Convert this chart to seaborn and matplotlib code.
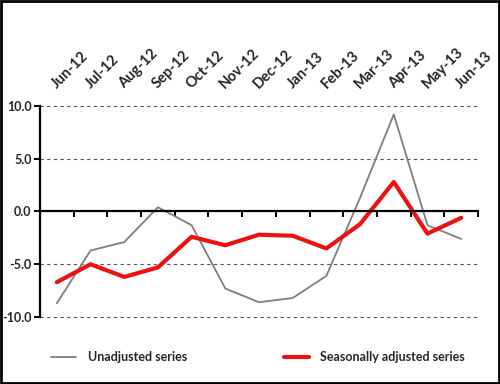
import pandas as pd
import seaborn as sns
import matplotlib.pyplot as plt
from matplotlib.patches import Rectangle

months = ['Jun-12', 'Jul-12', 'Aug-12', 'Sep-12', 'Oct-12', 'Nov-12', 'Dec-12',
          'Jan-13', 'Feb-13', 'Mar-13', 'Apr-13', 'May-13', 'Jun-13']
unadjusted = [-8.7, -3.7, -2.9, 0.4, -1.3, -7.3, -8.6, -8.2, -6.1, 1.3, 9.2, -1.3, -2.6]
seasonal = [-6.7, -5.0, -6.2, -5.3, -2.4, -3.2, -2.2, -2.3, -3.5, -1.2, 2.8, -2.1, -0.6]
yticks = [-10.0, -5.0, 0.0, 5.0, 10.0]

df = pd.DataFrame({'pos': range(len(months)), 'month': months,
                   'Unadjusted series': unadjusted,
                   'Seasonally adjusted series': seasonal})

sns.set_style('white')
plt.rcParams['font.family'] = ['Lato', 'DejaVu Sans']

fig = plt.figure(figsize=(5, 3.84), dpi=100)
ax = fig.add_axes([0.08, 0.1745, 0.876, 0.5495])

# dashed grid lines
for v in yticks:
    if v != 0:
        ax.axhline(v, color='#555555', lw=0.8, ls=(0, (3, 3)), zorder=0, clip_on=False)

sns.lineplot(data=df, x='pos', y='Unadjusted series', color='#7f7f7f', lw=1.3,
             label='Unadjusted series', ax=ax)
sns.lineplot(data=df, x='pos', y='Seasonally adjusted series', color='#ee1111', lw=3,
             label='Seasonally adjusted series', ax=ax)

ax.set_xlim(-0.5, len(months) - 0.5)
ax.set_ylim(-10, 10)
ax.set_xlabel('')
ax.set_ylabel('')

for s in ['top', 'right']:
    ax.spines[s].set_visible(False)
ax.spines['bottom'].set_position(('data', 0))
ax.spines['bottom'].set_color('black')
ax.spines['bottom'].set_linewidth(1.6)
ax.spines['left'].set_color('black')
ax.spines['left'].set_linewidth(1.6)

# boundary ticks on the zero line, month labels on top
ax.set_xticks([i + 0.5 for i in range(len(months))])
ax.set_xticklabels([])
ax.tick_params(axis='x', which='major', bottom=True, direction='out', length=4,
               width=1.4, color='black')
ax.set_xticks(range(len(months)), minor=True)
ax.set_xticklabels(months, minor=True, rotation=45, ha='left', va='baseline',
                   rotation_mode='anchor', fontsize=10.5, fontweight='bold')
ax.tick_params(axis='x', which='minor', bottom=False, top=False, labelbottom=False,
               labeltop=True, length=0, pad=12)

ax.set_yticks(yticks)
ax.set_yticklabels([f'{v:.1f}' for v in yticks], fontsize=9, fontweight='bold')
ax.tick_params(axis='y', left=True, direction='out', length=4, width=1.4,
               color='black', pad=2)

ax.legend(loc='lower left', bbox_to_anchor=(0.08, 0.025), bbox_transform=fig.transFigure,
          ncol=2, frameon=False, handlelength=2.0, handletextpad=0.9,
          columnspacing=7.8, prop={'size': 9, 'weight': 'bold'})

fig.patches.append(Rectangle((0.002, 0.003), 0.996, 0.994, transform=fig.transFigure,
                             fill=False, edgecolor='black', lw=2))

fig.savefig('out.png', dpi=100)
